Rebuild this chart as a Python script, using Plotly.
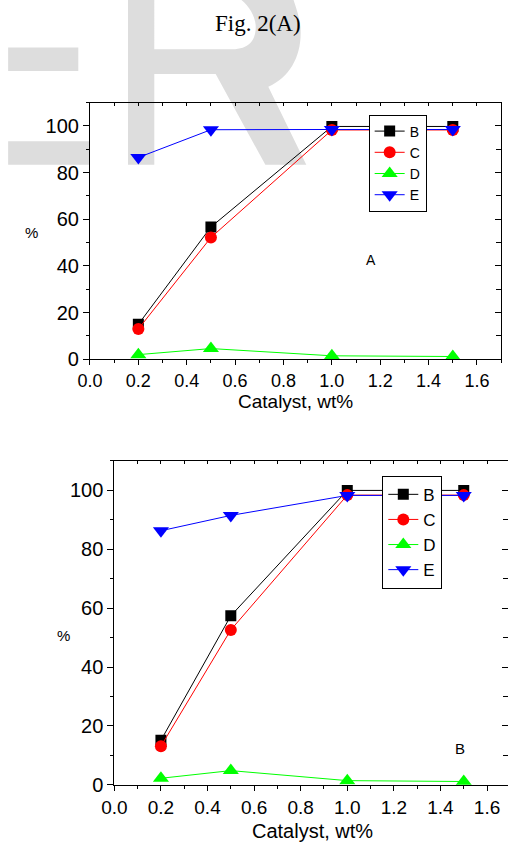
import plotly.graph_objects as go

W, H = 508, 853

# ---------------- data ----------------
catalyst = [0.2, 0.5, 1.0, 1.5]
series_names = ["B", "C", "D", "E"]

panelA_B = [15.0, 56.7, 99.8, 99.8]
panelA_C = [13.0, 52.2, 98.3, 98.3]
panelA_D = [2.0, 4.6, 1.5, 1.2]
panelA_E = [86.5, 98.4, 98.5, 98.5]

panelB_B = [15.1, 57.4, 100.0, 100.0]
panelB_C = [13.1, 52.6, 98.4, 98.4]
panelB_D = [2.2, 4.8, 1.4, 1.1]
panelB_E = [86.3, 91.5, 98.3, 98.3]

x_tick_labels = ["0.0", "0.2", "0.4", "0.6", "0.8", "1.0", "1.2", "1.4", "1.6"]
y_tick_labels = ["0", "20", "40", "60", "80", "100"]

panelA = [panelA_B, panelA_C, panelA_D, panelA_E]
panelB = [panelB_B, panelB_C, panelB_D, panelB_E]

# ---------------- styles ----------------
styles = {
    "B": dict(color="#000000", symbol="square", size=11),
    "C": dict(color="#ff0000", symbol="circle", size=12),
    "D": dict(color="#00ff00", symbol="triangle-up", size=14),
    "E": dict(color="#0000ff", symbol="triangle-down", size=14),
}
SANS = "Liberation Sans, Arial, sans-serif"
SERIF = "Liberation Serif, Times New Roman, serif"


def px(x):
    return x / W


def py(y):
    return 1 - y / H


fig = go.Figure()

for name, vals in zip(series_names, panelA):
    st = styles[name]
    fig.add_trace(go.Scatter(
        x=catalyst, y=vals, name=name, mode="lines+markers",
        line=dict(color=st["color"], width=1),
        marker=dict(color=st["color"], symbol=st["symbol"], size=st["size"], line=dict(width=0)),
        xaxis="x", yaxis="y", legend="legend",
    ))

for name, vals in zip(series_names, panelB):
    st = styles[name]
    fig.add_trace(go.Scatter(
        x=catalyst, y=vals, name=name, mode="lines+markers",
        line=dict(color=st["color"], width=1),
        marker=dict(color=st["color"], symbol=st["symbol"], size=st["size"], line=dict(width=0)),
        xaxis="x2", yaxis="y2", legend="legend2",
    ))

xtv = [float(t) for t in x_tick_labels]
ytv = [float(t) for t in y_tick_labels]


def main_x(domain, rng, anchor, fsize):
    return dict(domain=domain, range=rng, anchor=anchor,
                tickmode="array", tickvals=xtv, ticktext=x_tick_labels,
                ticks="outside", ticklen=5, tickwidth=1, tickcolor="black",
                minor=dict(tickmode="linear", tick0=0, dtick=0.1, ticks="outside",
                           ticklen=3, tickwidth=1, tickcolor="black"),
                showline=True, linecolor="black", linewidth=1,
                showgrid=False, zeroline=False,
                tickfont=dict(family=SANS, size=fsize, color="black"))


def main_y(domain, anchor):
    return dict(domain=domain, range=[0, 110], anchor=anchor,
                tickmode="array", tickvals=ytv, ticktext=y_tick_labels,
                ticks="outside", ticklen=6, tickwidth=1, tickcolor="black",
                minor=dict(tickmode="linear", tick0=0, dtick=10, ticks="outside",
                           ticklen=3, tickwidth=1, tickcolor="black"),
                showline=True, linecolor="black", linewidth=1,
                showgrid=False, zeroline=False,
                tickfont=dict(family=SANS, size=20, color="black"))


def over_x(over, rng, anchor):
    return dict(overlaying=over, side="top", range=rng, anchor=anchor,
                tickmode="linear", tick0=0, dtick=0.2, ticks="inside", ticklen=3,
                tickcolor="black", showticklabels=False,
                minor=dict(tickmode="linear", tick0=0, dtick=0.1, ticks="inside",
                           ticklen=3, tickcolor="black"),
                showline=True, linecolor="black", linewidth=1,
                showgrid=False, zeroline=False)


def over_y(over, anchor):
    return dict(overlaying=over, side="right", range=[0, 110], anchor=anchor,
                tickmode="linear", tick0=0, dtick=20, ticks="inside", ticklen=6,
                tickcolor="black", showticklabels=False,
                minor=dict(tickmode="linear", tick0=0, dtick=10, ticks="inside",
                           ticklen=5, tickcolor="black"),
                showline=True, linecolor="black", linewidth=1,
                showgrid=False, zeroline=False)


dom_top_x = [px(79), px(501)]
dom_top_y = [py(364), py(104)]
dom_bot_x = [px(104), 1.0]
dom_bot_y = [py(795), py(467)]

# overlay axes need a (hidden) trace so their subplot is drawn
fig.add_trace(go.Scatter(x=[], y=[], xaxis="x3", yaxis="y3", showlegend=False, hoverinfo="skip"))
fig.add_trace(go.Scatter(x=[], y=[], xaxis="x4", yaxis="y4", showlegend=False, hoverinfo="skip"))

legend_common = dict(bgcolor="white", bordercolor="black", borderwidth=1,
                     xanchor="left", yanchor="top", tracegroupgap=0,
                     itemsizing="trace")


# watermark (decorative letters of the page background)
def path_from(cmds):
    out = []
    for c in cmds:
        if isinstance(c, str):
            out.append(c)
        else:
            out.append(f"{px(c[0]):.5f},{py(c[1]):.5f}")
    return " ".join(out)


wm_color = "#dddddd"
r_path = path_from([
    "M", (118, -30), "L", (118, 167), "L", (145, 167), "L", (145, 75), "L", (208, 75),
    "L", (259, 167), "L", (301, 167), "L", (262, 88),
    "C", (285, 78), (297, 55), (295, 28), "C", (293, 10), (287, 0), (278, -30), "Z",
    "M", (145, -15), "L", (205, -15), "C", (225, -10), (247, 5), (249, 25),
    "C", (250, 40), (243, 50), (225, 50), "L", (145, 50), "Z",
])
shapes = [
    dict(type="rect", xref="paper", yref="paper", x0=px(-5), x1=px(67), y0=py(72), y1=py(48),
         fillcolor=wm_color, line=dict(width=0), layer="below"),
    dict(type="rect", xref="paper", yref="paper", x0=px(-5), x1=px(78), y0=py(167), y1=py(143),
         fillcolor=wm_color, line=dict(width=0), layer="below"),
    dict(type="path", xref="paper", yref="paper", path=r_path,
         fillcolor=wm_color, line=dict(width=0), layer="below"),
]

annotations = [
    dict(text="Fig. 2(A)", x=px(251), y=py(24), font=dict(family=SERIF, size=23, color="black")),
    dict(text="%", x=px(19), y=py(236), font=dict(family=SANS, size=15, color="black")),
    dict(text="%", x=px(52), y=py(644), font=dict(family=SANS, size=15, color="black")),
    dict(text="A", x=px(367), y=py(263), font=dict(family=SANS, size=14, color="black")),
    dict(text="B", x=px(459), y=py(758), font=dict(family=SANS, size=15, color="black")),
    dict(text="Catalyst, wt%", x=px(290), y=py(407), font=dict(family=SANS, size=19, color="black")),
    dict(text="Catalyst, wt%", x=px(307), y=py(842), font=dict(family=SANS, size=20, color="black")),
]
for a in annotations:
    a.update(xref="paper", yref="paper", showarrow=False, xanchor="center", yanchor="middle")

fig.update_layout(
    width=W, height=H, margin=dict(l=0, r=0, t=0, b=0, pad=0),
    paper_bgcolor="white", plot_bgcolor="rgba(0,0,0,0)",
    showlegend=True,
    xaxis=main_x(dom_top_x, [0, 1.7], "y", 18),
    yaxis=main_y(dom_top_y, "x"),
    xaxis2=main_x(dom_bot_x, [0, 1.69], "y2", 19),
    yaxis2=main_y(dom_bot_y, "x2"),
    xaxis3=over_x("x", [0, 1.7], "y"),
    yaxis3=over_y("y", "x"),
    xaxis4=over_x("x2", [0, 1.69], "y2"),
    yaxis4=over_y("y2", "x2"),
    legend=dict(x=px(365), y=py(116), font=dict(family=SANS, size=14, color="black"), **legend_common),
    legend2=dict(x=px(379), y=py(482), font=dict(family=SANS, size=17, color="black"), **legend_common),
    shapes=shapes,
    annotations=annotations,
)

fig.write_html("out.html")
